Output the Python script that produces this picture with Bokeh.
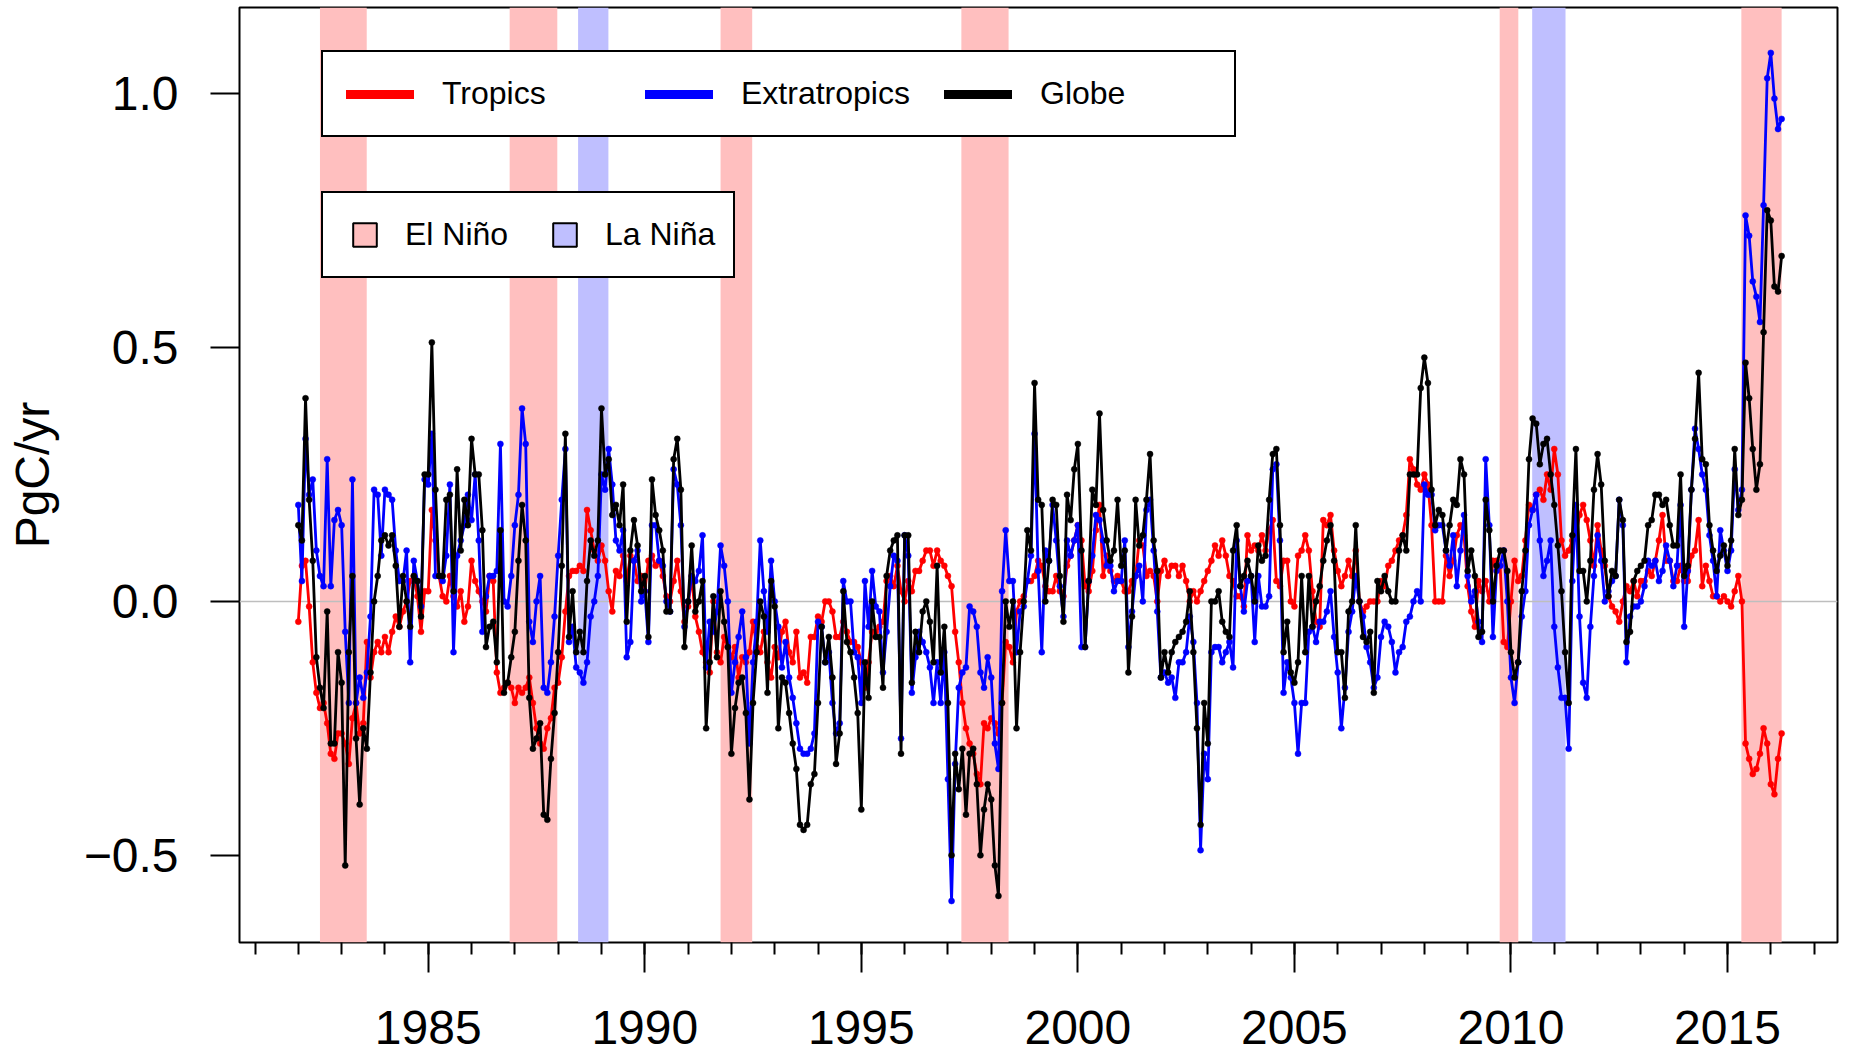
import numpy as np
from bokeh.plotting import figure
from bokeh.models import (Range1d, FixedTicker, BoxAnnotation, Span, Legend, LegendItem,
                          ColumnDataSource)
from bokeh.embed import file_html
from bokeh.resources import INLINE

# ---------------- data (monthly, Jan 1982 .. Apr 2016), PgC/yr ----------------
start_year = 1982

tropics = [
    -0.04, 0.07, 0.08, -0.01, -0.12, -0.18, -0.21, -0.20, -0.24, -0.30, -0.31, -0.26,
    -0.26, -0.28, -0.32, -0.23, -0.20, -0.26, -0.24, -0.08, -0.15, -0.10, -0.08, -0.10,
    -0.07, -0.10, -0.06, -0.03, -0.05, -0.02, 0.00, 0.04, 0.05, 0.01, -0.06, 0.02,
    0.02, 0.18, 0.12, 0.05, 0.01, 0.00, 0.05, 0.01, -0.01, 0.02, -0.04, -0.01,
    0.08, 0.04, 0.02, 0.00, -0.02, 0.05, 0.04, -0.14, -0.18, -0.17, -0.16, -0.17,
    -0.20, -0.17, -0.18, -0.17, -0.15, -0.20, -0.25, -0.28, -0.29, -0.25, -0.23, -0.17,
    -0.16, -0.11, -0.02, 0.05, 0.06, 0.06, 0.07, 0.06, 0.18, 0.14, 0.10, 0.08,
    0.11, 0.08, 0.02, -0.02, 0.06, 0.05, 0.09, 0.04, 0.09, 0.08, 0.04, 0.05,
    0.02, 0.08, 0.09, 0.07, 0.08, 0.05, 0.01, 0.00, 0.04, 0.08, 0.02, -0.04,
    -0.01, 0.05, -0.03, -0.06, -0.10, -0.12, -0.14, 0.00, -0.10, -0.12, -0.07, -0.09,
    -0.11, -0.09, -0.15, -0.11, -0.12, -0.10, -0.04, -0.09, -0.10, -0.06, -0.12, -0.15,
    -0.09, -0.11, -0.06, -0.04, -0.10, -0.12, -0.06, -0.15, -0.14, -0.16, -0.07, -0.07,
    -0.03, -0.04, 0.00, 0.00, -0.02, -0.07, -0.07, -0.04, -0.06, -0.08, -0.08, -0.09,
    -0.12, -0.17, -0.12, -0.06, -0.06, -0.05, -0.04, 0.04, 0.05, 0.03, 0.07, 0.02,
    0.00, 0.04, 0.02, 0.06, 0.06, 0.08, 0.10, 0.10, 0.07, 0.10, 0.08, 0.07,
    0.05, 0.03, -0.06, -0.12, -0.20, -0.25, -0.28, -0.30, -0.34, -0.36, -0.24, -0.25,
    -0.23, -0.24, -0.26, -0.20, -0.08, -0.09, -0.12, -0.02, 0.00, 0.01, 0.04, 0.04,
    0.05, 0.08, 0.07, 0.03, 0.02, 0.02, 0.05, 0.02, 0.01, 0.07, 0.09, 0.12,
    0.15, 0.12, 0.03, 0.02, 0.06, 0.14, 0.19, 0.05, 0.09, 0.06, 0.04, 0.05,
    0.04, 0.02, 0.02, 0.04, 0.05, 0.12, 0.11, 0.05, 0.06, 0.05, 0.00, 0.06,
    0.08, 0.05, 0.07, 0.07, 0.05, 0.07, 0.04, 0.00, 0.02, 0.00, 0.02, 0.04,
    0.06, 0.08, 0.11, 0.09, 0.12, 0.09, 0.05, 0.04, 0.01, 0.01, -0.01, 0.13,
    0.10, 0.11, 0.10, 0.13, 0.10, 0.14, 0.16, 0.04, 0.03, 0.08, 0.08, 0.00,
    -0.01, 0.09, 0.10, 0.13, 0.10, 0.02, -0.04, -0.05, 0.16, 0.15, 0.17, 0.10,
    0.06, 0.03, 0.05, 0.08, 0.05, 0.10, 0.00, -0.02, -0.01, 0.00, 0.00, 0.00,
    0.04, 0.03, 0.07, 0.08, 0.10, 0.12, 0.13, 0.17, 0.28, 0.26, 0.23, 0.22,
    0.25, 0.23, 0.15, 0.00, 0.00, 0.00, 0.09, 0.05, 0.08, 0.13, 0.15, 0.13,
    0.03, -0.02, -0.05, 0.04, 0.02, 0.04, 0.00, 0.08, 0.08, 0.07, -0.08, -0.09,
    0.00, 0.08, 0.04, 0.05, 0.12, 0.19, 0.18, 0.21, 0.22, 0.20, 0.25, 0.22,
    0.30, 0.25, 0.12, 0.09, 0.10, 0.12, 0.13, 0.17, 0.19, 0.16, 0.12, 0.07,
    0.15, 0.10, 0.07, 0.01, -0.01, -0.02, -0.04, 0.00, 0.03, 0.02, 0.04, 0.01,
    0.04, 0.04, 0.06, 0.05, 0.08, 0.12, 0.17, 0.08, 0.08, 0.04, 0.04, 0.07,
    0.04, 0.04, 0.09, 0.10, 0.16, 0.03, 0.07, 0.04, 0.01, 0.01, 0.00, 0.01,
    0.00, -0.01, 0.02, 0.05, 0.00, -0.28, -0.31, -0.34, -0.33, -0.30, -0.25, -0.28,
    -0.36, -0.38, -0.31, -0.26,
]

extratropics = [
    0.19, 0.04, 0.32, 0.21, 0.24, 0.10, 0.05, 0.03, 0.28, 0.03, 0.16, 0.18,
    0.15, -0.06, -0.20, 0.24, -0.20, -0.15, -0.19, -0.14, -0.03, 0.22, 0.21, 0.09,
    0.22, 0.21, 0.20, 0.10, 0.04, 0.04, 0.10, -0.12, 0.08, 0.04, -0.01, 0.24,
    0.23, 0.33, 0.05, 0.05, 0.04, 0.09, 0.23, -0.10, 0.09, 0.12, 0.15, 0.21,
    0.16, 0.25, 0.12, -0.06, 0.01, 0.05, 0.05, 0.06, 0.31, 0.00, -0.01, 0.05,
    0.15, 0.21, 0.38, 0.31, -0.04, -0.08, 0.00, 0.05, -0.17, -0.18, -0.12, -0.03,
    0.09, 0.20, 0.30, -0.08, -0.05, -0.13, -0.14, -0.16, -0.12, -0.03, 0.00, 0.05,
    0.25, 0.22, 0.30, 0.23, 0.12, 0.10, 0.14, -0.11, -0.08, 0.08, 0.10, 0.00,
    0.02, -0.08, 0.15, 0.15, 0.08, 0.07, 0.00, -0.02, 0.26, 0.23, 0.15, -0.05,
    0.00, 0.05, 0.04, 0.06, 0.13, -0.13, -0.04, -0.06, -0.02, 0.11, 0.07, 0.00,
    -0.18, -0.12, -0.07, -0.02, -0.11, -0.28, -0.12, -0.04, 0.12, 0.02, -0.06, 0.08,
    0.00, -0.05, -0.13, -0.08, -0.15, -0.19, -0.24, -0.29, -0.30, -0.30, -0.29, -0.26,
    -0.04, -0.05, -0.12, -0.10, -0.20, -0.26, -0.24, 0.04, 0.00, 0.00, -0.10, -0.11,
    -0.20, 0.04, -0.05, 0.06, -0.01, -0.02, -0.14, -0.06, 0.03, 0.09, 0.08, -0.27,
    0.13, 0.09, -0.18, -0.11, -0.06, -0.08, -0.10, -0.13, -0.20, -0.12, -0.20, -0.10,
    -0.35, -0.59, -0.32, -0.17, -0.14, -0.13, -0.01, -0.02, -0.05, -0.14, -0.17, -0.11,
    -0.15, -0.28, -0.33, 0.02, 0.14, 0.04, 0.04, -0.10, -0.02, -0.01, 0.04, 0.09,
    0.33, 0.06, -0.10, 0.10, 0.08, 0.19, 0.12, 0.03, -0.03, 0.12, 0.09, 0.12,
    0.15, -0.09, -0.09, 0.04, 0.09, 0.17, 0.16, 0.12, 0.07, 0.07, 0.02, 0.04,
    0.04, 0.12, -0.09, -0.02, 0.05, 0.07, 0.00, 0.18, 0.20, 0.10, -0.02, -0.15,
    -0.14, -0.16, -0.15, -0.19, -0.12, -0.12, -0.10, -0.03, -0.08, -0.20, -0.49, -0.30,
    -0.35, -0.10, -0.09, -0.09, -0.12, -0.10, -0.08, -0.13, 0.12, 0.03, -0.02, 0.04,
    0.05, -0.08, 0.05, -0.01, -0.01, 0.01, 0.26, 0.27, 0.12, -0.18, -0.12, -0.15,
    -0.20, -0.30, -0.20, -0.20, -0.06, -0.05, -0.08, -0.04, -0.04, -0.02, 0.02, -0.07,
    -0.14, -0.25, -0.17, -0.06, -0.02, 0.05, 0.00, -0.03, -0.09, -0.12, -0.17, -0.15,
    -0.07, -0.04, -0.05, -0.08, -0.14, -0.10, -0.09, -0.04, -0.03, 0.00, 0.02, 0.00,
    0.23, 0.21, 0.21, 0.14, 0.15, 0.15, 0.10, 0.07, 0.13, 0.03, 0.10, 0.17,
    0.05, 0.00, 0.02, -0.04, -0.08, 0.28, 0.15, -0.07, 0.06, 0.07, 0.10, 0.00,
    -0.15, -0.20, -0.12, -0.03, 0.02, 0.15, 0.18, 0.21, 0.12, 0.05, 0.08, 0.12,
    -0.05, -0.13, -0.19, -0.19, -0.29, 0.04, 0.19, -0.03, -0.16, -0.19, -0.05, 0.05,
    0.13, 0.08, 0.00, 0.02, 0.04, 0.05, 0.20, 0.15, -0.12, -0.03, -0.01, -0.01,
    0.00, 0.03, 0.08, 0.07, 0.08, 0.04, 0.06, 0.11, 0.08, 0.03, 0.07, 0.19,
    -0.05, 0.06, 0.22, 0.34, 0.30, 0.25, 0.22, 0.13, 0.08, 0.01, 0.14, 0.10,
    0.06, 0.10, 0.26, 0.18, 0.22, 0.76, 0.72, 0.63, 0.60, 0.55, 0.78, 1.03,
    1.08, 0.99, 0.93, 0.95,
]

globe = [
    0.15, 0.12, 0.40, 0.20, 0.08, -0.11, -0.17, -0.21, -0.02, -0.28, -0.28, -0.10,
    -0.16, -0.52, -0.10, 0.05, -0.27, -0.40, -0.25, -0.29, -0.14, 0.00, 0.05, 0.12,
    0.13, 0.11, 0.13, 0.07, -0.05, 0.05, 0.00, -0.05, 0.05, 0.04, -0.03, 0.25,
    0.25, 0.51, 0.22, 0.05, 0.05, 0.20, 0.21, 0.02, 0.26, 0.10, 0.20, 0.15,
    0.32, 0.25, 0.25, 0.14, -0.09, -0.05, -0.04, -0.12, 0.14, -0.18, -0.16, -0.11,
    -0.06, 0.08, 0.19, 0.12, -0.19, -0.29, -0.27, -0.24, -0.42, -0.43, -0.31, -0.22,
    -0.10, 0.07, 0.33, -0.07, 0.02, -0.10, -0.06, -0.10, 0.04, 0.12, 0.09, 0.12,
    0.38, 0.25, 0.28, 0.17, 0.19, 0.15, 0.23, -0.04, 0.10, 0.16, 0.11, 0.02,
    0.05, -0.07, 0.24, 0.17, 0.14, 0.10, -0.02, -0.02, 0.28, 0.32, 0.22, -0.09,
    0.00, 0.11, -0.02, 0.00, 0.04, -0.25, -0.12, 0.01, -0.11, 0.02, -0.04, -0.09,
    -0.30, -0.21, -0.16, -0.15, -0.22, -0.39, -0.20, -0.10, 0.00, -0.03, -0.18, 0.04,
    -0.01, -0.25, -0.15, -0.16, -0.22, -0.28, -0.33, -0.44, -0.45, -0.44, -0.36, -0.34,
    -0.20, -0.05, -0.12, -0.07, -0.15, -0.32, -0.26, 0.02, -0.08, -0.10, -0.15, -0.22,
    -0.41, -0.12, -0.19, 0.00, -0.07, -0.07, -0.17, 0.05, 0.10, 0.12, 0.13, -0.30,
    0.13, 0.13, -0.16, -0.06, -0.10, -0.02, 0.00, -0.04, -0.12, 0.07, -0.14, -0.05,
    -0.20, -0.50, -0.30, -0.37, -0.29, -0.42, -0.30, -0.29, -0.36, -0.50, -0.41, -0.36,
    -0.39, -0.52, -0.58, -0.20, 0.00, -0.05, 0.00, -0.25, -0.10, 0.00, 0.14, 0.10,
    0.43, 0.20, 0.19, 0.00, 0.08, 0.20, 0.19, 0.05, -0.04, 0.21, 0.16, 0.26,
    0.31, 0.10, -0.09, 0.04, 0.22, 0.19, 0.37, 0.18, 0.12, 0.08, 0.10, 0.20,
    0.07, 0.10, -0.14, -0.03, 0.20, 0.11, 0.13, 0.20, 0.29, 0.12, 0.06, -0.15,
    -0.10, -0.14, -0.10, -0.08, -0.07, -0.06, -0.04, 0.02, -0.10, -0.25, -0.44, -0.20,
    -0.28, 0.00, 0.00, 0.02, -0.04, -0.06, -0.07, 0.10, 0.15, 0.03, 0.05, 0.08,
    0.05, 0.00, 0.11, 0.08, 0.09, 0.20, 0.29, 0.30, 0.15, -0.10, -0.04, -0.14,
    -0.16, -0.12, 0.05, -0.10, 0.05, -0.05, 0.00, 0.03, 0.08, 0.12, 0.15, 0.08,
    -0.10, -0.10, -0.19, -0.02, 0.00, 0.15, 0.00, -0.07, -0.08, -0.06, -0.18, 0.04,
    0.02, 0.05, 0.02, 0.00, 0.00, 0.10, 0.13, 0.10, 0.25, 0.25, 0.25, 0.42,
    0.48, 0.43, 0.22, 0.15, 0.18, 0.17, 0.10, 0.15, 0.20, 0.19, 0.28, 0.25,
    0.06, 0.10, 0.05, -0.07, -0.06, 0.20, 0.14, 0.00, 0.07, 0.10, 0.10, 0.06,
    -0.10, -0.15, -0.12, 0.02, 0.10, 0.28, 0.36, 0.35, 0.27, 0.31, 0.32, 0.25,
    0.19, 0.11, 0.02, -0.10, -0.20, 0.13, 0.30, 0.06, 0.06, 0.00, 0.08, 0.22,
    0.29, 0.23, 0.08, 0.01, 0.06, 0.05, 0.20, 0.16, -0.08, -0.06, 0.04, 0.06,
    0.07, 0.08, 0.15, 0.16, 0.21, 0.21, 0.19, 0.20, 0.15, 0.11, 0.11, 0.25,
    0.05, 0.07, 0.22, 0.32, 0.45, 0.28, 0.27, 0.15, 0.10, 0.06, 0.09, 0.11,
    0.07, 0.12, 0.30, 0.17, 0.20, 0.47, 0.40, 0.30, 0.22, 0.27, 0.53, 0.77,
    0.75, 0.62, 0.61, 0.68,
]

# ENSO episodes (decimal years)
el_nino_start = [1982.50, 1986.88, 1991.75, 1997.31, 2009.74, 2015.32]
el_nino_end   = [1983.58, 1987.98, 1992.48, 1998.40, 2010.17, 2016.25]
la_nina_start = [1988.46, 2010.49]
la_nina_end   = [1989.16, 2011.26]

x_major_ticks = [1985, 1990, 1995, 2000, 2005, 2010, 2015]
x_minor_ticks = list(range(1981, 2018))
y_ticks = [-0.5, 0.0, 0.5, 1.0]
y_tick_labels = {-0.5: "\u22120.5", 0: "0.0", 0.5: "0.5", 1: "1.0"}

series_names = ["Tropics", "Extratropics", "Globe"]
series_colors = ["#FF0000", "#0000FF", "#000000"]
enso_names = ["El Ni\u00f1o", "La Ni\u00f1a"]
enso_colors = ["#FFBFBF", "#BFBFFF"]

# ---------------- layout ----------------
FONT = "Liberation Sans"
W, H = 1842, 1055
FRAME_L, FRAME_R, FRAME_T, FRAME_B = 239, 1837, 7, 942
X_MIN, X_MAX = 1980.642, 2017.54
Y_MIN, Y_MAX = -0.6717, 1.1694

p = figure(width=W, height=H,
           x_range=Range1d(X_MIN, X_MAX), y_range=Range1d(Y_MIN, Y_MAX),
           output_backend="svg", toolbar_location=None,
           min_border_left=FRAME_L, min_border_right=W - FRAME_R,
           min_border_top=FRAME_T, min_border_bottom=H - FRAME_B)
p.background_fill_color = "white"
p.border_fill_color = "white"
p.outline_line_color = "black"
p.outline_line_width = 2
p.outline_line_alpha = 1
p.grid.visible = False

# ENSO shading
for s, e in zip(el_nino_start, el_nino_end):
    p.add_layout(BoxAnnotation(left=s, right=e, fill_color=enso_colors[0], fill_alpha=1.0,
                               line_alpha=0, level="underlay"))
for s, e in zip(la_nina_start, la_nina_end):
    p.add_layout(BoxAnnotation(left=s, right=e, fill_color=enso_colors[1], fill_alpha=1.0,
                               line_alpha=0, level="underlay"))

p.add_layout(Span(location=0, dimension="width", line_color="#BEBEBE", line_width=1.5,
                  level="underlay"))

t = start_year + np.arange(len(globe)) / 12.0
src = ColumnDataSource(dict(t=t, tropics=tropics, extratropics=extratropics, globe=globe))

for col, color in zip(["tropics", "extratropics", "globe"], series_colors):
    p.line("t", col, source=src, line_color=color, line_width=2.8)
    p.scatter("t", col, source=src, marker="circle", size=6, fill_color=color,
              line_color=color, line_width=0.5)

# legend proxies (nothing visible in the plot area)
nan = [float("nan")]
line_proxies = [p.line(x=nan, y=nan, line_color=c, line_width=9, line_cap="round")
                for c in series_colors]
box_proxies = [p.scatter(x=nan, y=nan, marker="square", size=24, fill_color=c,
                         line_color="black", line_width=2) for c in enso_colors]

leg1 = Legend(items=[LegendItem(label=n, renderers=[r]) for n, r in zip(series_names, line_proxies)],
              location=(82, 805), orientation="horizontal",
              glyph_width=68, glyph_height=36, label_height=36, label_width=171,
              label_standoff=28, spacing=32, padding=23, margin=0,
              label_text_font=FONT, label_text_font_size="32px", label_text_color="black",
              border_line_color="black", border_line_width=2.5, border_line_alpha=1,
              background_fill_color="white", background_fill_alpha=1)
leg2 = Legend(items=[LegendItem(label=n, renderers=[r]) for n, r in zip(enso_names, box_proxies)],
              location=(82, 664), orientation="horizontal",
              glyph_width=59, glyph_height=59, label_height=36, label_width=116,
              label_standoff=11, spacing=14, padding=12, margin=0,
              label_text_font=FONT, label_text_font_size="32px", label_text_color="black",
              border_line_color="black", border_line_width=2.5, border_line_alpha=1,
              background_fill_color="white", background_fill_alpha=1)
p.add_layout(leg1, "center")
p.add_layout(leg2, "center")

# axes
xa = p.xaxis[0]
xa.ticker = FixedTicker(ticks=x_major_ticks, minor_ticks=x_minor_ticks)
xa.axis_line_color = None
xa.major_tick_out = 30
xa.major_tick_in = 0
xa.minor_tick_out = 12
xa.minor_tick_in = 0
xa.major_tick_line_width = 2
xa.minor_tick_line_width = 2
xa.major_tick_line_color = "black"
xa.minor_tick_line_color = "black"
xa.major_label_text_font = FONT
xa.major_label_text_font_size = "48px"
xa.major_label_text_color = "black"
xa.major_label_standoff = 38

ya = p.yaxis[0]
ya.ticker = FixedTicker(ticks=y_ticks, minor_ticks=[])
ya.major_label_overrides = y_tick_labels
ya.axis_line_color = None
ya.major_tick_out = 29
ya.major_tick_in = 0
ya.minor_tick_out = 0
ya.minor_tick_in = 0
ya.major_tick_line_width = 2
ya.major_tick_line_color = "black"
ya.major_label_text_font = FONT
ya.major_label_text_font_size = "48px"
ya.major_label_text_color = "black"
ya.major_label_standoff = 32
ya.axis_label = "PgC/yr"
ya.axis_label_text_font = FONT
ya.axis_label_text_font_size = "48px"
ya.axis_label_text_font_style = "normal"
ya.axis_label_text_color = "black"
ya.axis_label_standoff = 22

open("out.html", "w").write(file_html(p, INLINE))
